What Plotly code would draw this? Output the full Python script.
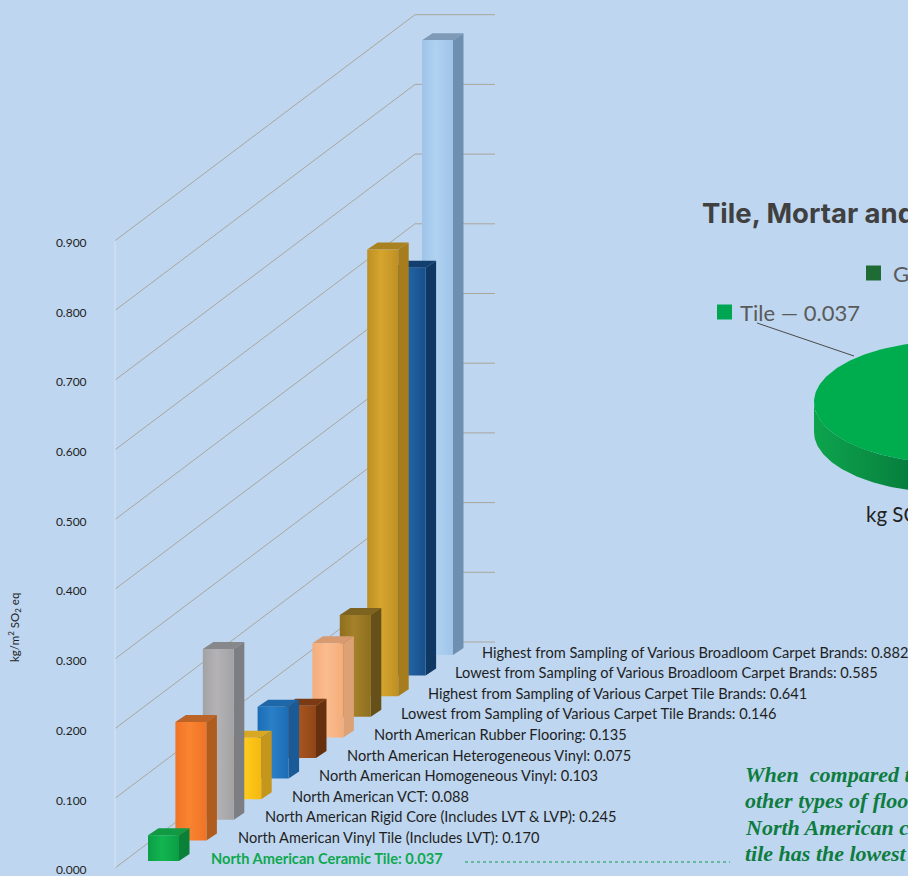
import numpy as np
import plotly.graph_objects as go

# ---- data ----
categories = [
    "North American Ceramic Tile",
    "North American Vinyl Tile (Includes LVT)",
    "North American Rigid Core (Includes LVT & LVP)",
    "North American VCT",
    "North American Homogeneous Vinyl",
    "North American Heterogeneous Vinyl",
    "North American Rubber Flooring",
    "Lowest from Sampling of Various Carpet Tile Brands",
    "Highest from Sampling of Various Carpet Tile Brands",
    "Lowest from Sampling of Various Broadloom Carpet Brands",
    "Highest from Sampling of Various Broadloom Carpet Brands",
]
values = [0.037, 0.170, 0.245, 0.088, 0.103, 0.075, 0.135, 0.146, 0.641, 0.585, 0.882]
front_light = ["#12B550", "#FA8432", "#B4B2B4", "#FFCB1E", "#2A80C8", "#A8541F", "#FBBC8E", "#A5812A", "#D6A52E", "#2263A4", "#AFD2F2"]
front_dark = ["#0B9E45", "#EE7426", "#A2A2A4", "#F5B80F", "#1C6CB4", "#8E4618", "#F5AC7A", "#8E6F1E", "#BE9024", "#184F8A", "#9FC4E8"]
side_colors = ["#0A8038", "#B05C1E", "#7C7E84", "#C4961C", "#1A5A96", "#66300F", "#DDA176", "#66501A", "#A67C1C", "#0E3763", "#6F8FB0"]
top_colors = ["#119A43", "#BC6428", "#86888C", "#D8A824", "#1E68AA", "#7A3A14", "#D89A70", "#7C6320", "#A88220", "#123F6E", "#7F9AB6"]
tick_values = [0.0, 0.1, 0.2, 0.3, 0.4, 0.5, 0.6, 0.7, 0.8, 0.9]
pie_label = "Tile — 0.037"
note_lines = ["When&nbsp;&nbsp;compared to", "other types of flooring,", "North American ceramic", "tile has the lowest"]

# ---- projection constants ----
PX = 697.0            # pixels per unit of value
Y0 = 868.0            # pixel row of value 0
BG = "#BED6EF"
GREEN = "#0EA84F"


def yv(row):
    return (Y0 - row) / PX


fig = go.Figure()


def poly(xs, ys, color=None, gradient=None):
    kw = dict(fillgradient=gradient) if gradient else dict(fillcolor=color)
    fig.add_trace(go.Scatter(x=xs, y=ys, mode="lines", fill="toself", line=dict(width=0),
                             hoverinfo="skip", showlegend=False, **kw))


def line(xs, ys, color, width=1, dash="solid"):
    fig.add_trace(go.Scatter(x=xs, y=ys, mode="lines", line=dict(color=color, width=width, dash=dash),
                             hoverinfo="skip", showlegend=False))


# gridlines: side wall then back wall
WALL_X, BACK_X, END_X = 115, 415, 495
SHIFT = yv(Y0 - 226)
for t in tick_values:
    line([WALL_X, BACK_X, END_X], [t, t + SHIFT, t + SHIFT], "#A9A79C", 1)
line([WALL_X, WALL_X], [0, 0.9], "#D8E4F2", 1)

# bars, back to front
STEP_X, STEP_ROW = 27.4, 20.6
W, DX, DY = 31, 10.5, yv(Y0 - 7)
for i in reversed(range(len(values))):
    v = values[i]
    x0 = 148 + STEP_X * i
    b = yv(861 - STEP_ROW * i)
    x1 = x0 + W
    poly([x0 + DX, x1 + DX, x1, x0, x0 + DX], [b + v + DY, b + v + DY, b + v, b + v, b + v + DY], top_colors[i])
    poly([x1, x1 + DX, x1 + DX, x1, x1], [b, b + DY, b + v + DY, b + v, b], side_colors[i])
    poly([x0, x1, x1, x0, x0], [b, b, b + v, b + v, b],
         gradient=dict(type="horizontal", colorscale=[[0, front_dark[i]], [0.45, front_light[i]], [1, front_dark[i]]]))

annotations = []


def note(x, row, text, size, color="#1F1F1F", family="Lato", anchor="left", **kw):
    annotations.append(dict(x=x, y=yv(row), xref="x", yref="y", text=text, showarrow=False, xanchor=anchor,
                            yanchor="middle", font=dict(family=family, size=size, color=color),
                            align="left", **kw))


# bar labels
for i, (c, v) in enumerate(zip(categories, values)):
    txt = f"{c}: {v:.3f}"
    if i == 0:
        note(209, 858, f"<b>{txt}</b>", 14.6, GREEN)
    else:
        note(209 + 27.1 * i, 858 - STEP_ROW * i, txt, 14.6)

# dotted leader from the ceramic label to the note
line([465, 730], [yv(862), yv(862)], "#0E9A4C", 1, "dot")

# axis title
note(14, 628, "kg/m<sup>2</sup> SO<sub>2</sub> eq", 11.5, anchor="center", textangle=-90)

# pie (3D disc, runs off the right edge)
CX, CY, RX, RY, DEPTH = 950, 402, 136, 61, 30
t = np.linspace(np.pi / 2, 3 * np.pi / 2, 120)
ex, ey = CX + RX * np.cos(t), CY + RY * np.sin(t)
lower = np.linspace(np.pi, 3 * np.pi / 2, 80)
lx, ly = CX + RX * np.cos(lower), CY - RY * np.sin(lower)
poly(list(lx) + list(lx[::-1]), list(yv(ly + DEPTH)) + list(yv(ly[::-1])),
     gradient=dict(type="horizontal", colorscale=[[0, "#0DA44D"], [0.5, "#098A42"], [1, "#006B35"]]))
poly(list(ex), list(yv(ey)), "#00AD4E")

# pie leader + legend squares
line([757, 854], [yv(323), yv(356)], "#4A4A4A", 1)
fig.add_trace(go.Scatter(x=[724.5, 873.5], y=[yv(312), yv(273)], mode="markers",
                         marker=dict(symbol="square", size=15, color=["#00A651", "#1E6B36"]),
                         hoverinfo="skip", showlegend=False))

note(700, 213, "<b>Tile, Mortar and Grout</b>", 27.5, "#404040", "Inter")
note(738, 312, pie_label, 22, "#5A5A5A", "Lato")
note(891, 273, "Grout", 22, "#5A5A5A", "Lato")
note(864, 515, "kg SO<sub>2</sub> eq", 20.5, "#222222", "Lato")

for k, txt in enumerate(note_lines):
    note(743, 774 + 26.6 * k, f"<b><i>{txt}</i></b>", 22, "#0E7C3F", "Liberation Serif")

FIG_H = 896   # slightly taller than the window so the 0.000 tick label is kept; the page clips the extra
fig.update_layout(
    width=908, height=FIG_H, autosize=False,
    margin=dict(l=0, r=0, t=0, b=0),
    paper_bgcolor=BG, plot_bgcolor=BG,
    showlegend=False, annotations=annotations,
    xaxis=dict(range=[0, 908], visible=False, fixedrange=True),
    yaxis=dict(range=[yv(FIG_H), yv(0)], anchor="free", position=115 / 908, showgrid=False, zeroline=False,
               showline=False, tickmode="array", tickvals=[t - 2 / PX for t in tick_values],
               ticktext=[f"{t:.3f}" for t in tick_values], ticks="outside", ticklen=26,
               tickcolor="rgba(0,0,0,0)", tickfont=dict(family="Lato", size=12, color="#1F1F1F"),
               fixedrange=True),
)
fig.write_html("out.html", config=dict(displayModeBar=False),
               post_script="document.body.style.margin='0';document.documentElement.style.overflow='hidden';document.body.style.overflow='hidden';document.documentElement.style.background='%s';" % BG)
